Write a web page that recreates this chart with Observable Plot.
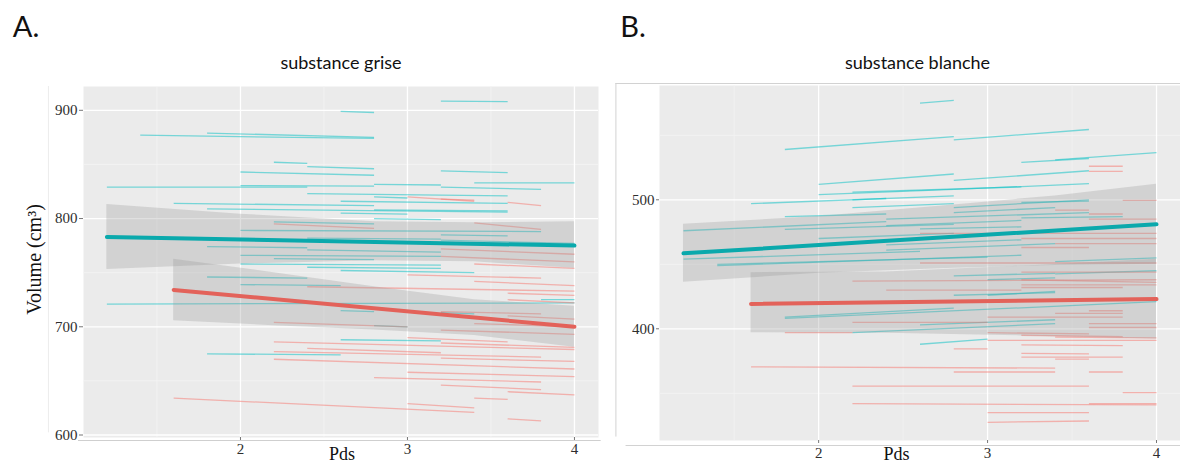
<!DOCTYPE html>
<html><head><meta charset="utf-8">
<script src="https://cdn.jsdelivr.net/npm/d3@7"></script>
<script src="https://cdn.jsdelivr.net/npm/@observablehq/plot@0.6"></script>
<style>
html,body{margin:0;padding:0;background:#fff;}
#wrap{position:relative;width:1180px;height:466px;overflow:hidden;background:#fff;}
#wrap svg{position:absolute;top:0;}
</style></head><body><div id="wrap"></div>
<script>
// ---------- shared ticks ----------
const xMajor = [2, 3, 4];
const xMinor = [1.5, 2.5, 3.5];

// ---------- Panel A : substance grise ----------
const greyYMajor = [600, 700, 800, 900];
const greyYMinor = [650, 750, 850];
// segments [pds start, volume start, pds end, volume end]
const greyTeal = [
  [3.2,908.5,3.6,908],[2.6,899,2.8,898],[1.4,877,2.8,874],[1.8,879,2.8,875],
  [2.2,852,2.4,851],[2.4,848,2.8,846],[2.0,843,2.8,840],[3.2,844,3.6,842.5],
  [1.2,829,2.4,829],[2.0,830.5,2.8,830],[2.8,831.5,3.2,831],[3.4,833,4.0,833],
  [3.2,829,3.8,827],[2.4,823,3.6,821],[2.8,820,3.0,819],[1.6,814,2.8,812],
  [2.6,816,3.6,814],[1.8,809,3.6,806],[2.8,808,3.6,807],[2.6,805,3.0,804],
  [2.8,800,3.2,799],[2.2,797,2.8,795],[2.0,789,3.8,788],[3.2,785,3.6,784],
  [2.4,782,3.2,781],[3.2,780,4.0,777],[3.6,777,3.8,776],
  [1.8,774,2.4,773],[2.4,771,3.2,769],[2.0,766,3.2,765],[2.2,763,2.8,762],
  [2.0,758,3.2,757],[2.4,755,3.2,754],[2.6,752,3.4,750],[1.8,746,2.4,745],
  [2.0,739,2.6,738],[1.2,721,4.0,722],[3.8,725,4.0,725],[2.6,715,2.8,714],
  [3.2,713,3.4,712],[2.8,701,3.0,700],[2.6,688,3.2,687],[1.8,675,2.6,674]
];
const greySalmon = [
  [3.0,820,3.4,816],[3.2,818,3.4,817],[3.6,815,3.8,812],[3.4,796,3.8,790],
  [2.2,795,2.8,791],[3.2,772,4.0,767],[3.2,765,4.0,760],[3.4,758,4.0,754],
  [3.0,748,3.8,745],[3.4,742,4.0,738],[2.4,737,4.0,733],[3.6,731,4.0,729],
  [3.6,725,4.0,722],[3.2,714,3.8,712],[3.6,710,4.0,707],[2.2,704,3.0,700],
  [3.4,703,4.0,700],[3.2,697,4.0,693],[3.0,690,3.6,686],[3.2,685,4.0,681],
  [2.2,686,4.0,679],[2.4,680,3.2,676],[2.2,677,3.8,672],[3.2,671,4.0,668],
  [2.2,670,4.0,661],[3.0,658,4.0,654],[2.8,653,3.8,649],[3.2,646,3.8,642],
  [3.6,640,4.0,637],[3.4,634,3.6,633],[3.0,629,3.4,625],[1.6,634,3.4,621],
  [3.6,615,3.8,613]
];
// regression lines [pds, volume] and confidence bands [pds, lower, upper]
const greyFitTeal = [[1.2,783],[4.0,775]];
const greyFitSalmon = [[1.6,734],[4.0,700]];
const greyBandTeal = [[1.2,753,813],[2.0,758,804],[2.8,761,797],[3.4,760,796],[4.0,754,797]];
const greyBandSalmon = [[1.6,705.5,762.5],[2.2,701,750],[2.8,697,737],[3.4,692,725],[4.0,681,719]];

// ---------- Panel B : substance blanche ----------
const whiteYMajor = [400, 500];
const whiteYMinor = [350, 450, 550];
const whiteTeal = [
  [2.6,575,2.8,577],[1.8,539,2.8,549],[2.8,546.5,3.6,554.5],[3.4,531,4.0,536.5],
  [3.2,529,3.6,532],[2.8,515,3.6,522.5],[2.0,512,2.8,520],[2.8,508,3.6,512.5],
  [2.0,504,2.8,508],[2.2,506,3.2,510],[1.6,497,2.8,503],[2.2,494,2.8,497],
  [2.8,494,3.6,500],[2.8,490,3.4,494],[1.8,487,2.4,489],[2.4,485,3.6,490],
  [1.2,476,2.4,483],[2.4,480,3.2,484],[1.8,477,2.8,481],[3.2,486,3.8,487],
  [2.6,477.5,3.2,479],[2.4,465,3.2,469],[2.4,461,3.4,466],[1.2,454,2.6,460],
  [1.4,449,3.2,457],[1.4,450,3.0,455.5],[2.8,441,3.4,443],[3.4,442.5,4.0,445],
  [3.0,438,3.4,439.5],[2.8,426,3.4,428],[3.0,426,3.4,429],[1.8,408,4.0,421],
  [1.8,409,2.8,416],[2.6,403,3.4,407],[2.2,397,3.4,404],[2.6,388,3.0,392],
  [3.4,452,4.0,455],[2.0,470,2.8,474],[3.2,498,3.6,499],[2.2,500,2.4,501]
];
const whiteSalmon = [
  [3.6,526,3.8,526],[3.6,522,3.8,522],[3.8,499.5,4.0,499.5],[3.4,492,3.6,492],
  [3.6,489,3.8,489],[3.6,485,4.0,485],[2.6,474,4.0,474],[3.2,470,4.0,470],
  [3.4,466,4.0,466],[3.2,463,3.6,463],[2.6,451,4.0,451],[3.2,444,4.0,444],
  [2.2,437,4.0,438],[3.2,438,4.0,436],[3.2,434,4.0,434],[3.2,432,3.8,432],
  [2.4,430,3.2,430],[3.6,414,3.8,414],[3.4,412,3.8,412],[3.0,409,3.8,409],
  [2.2,405,3.0,405],[3.6,404,4.0,404],[3.6,401,4.0,401],[1.8,397,2.2,397],
  [3.0,397,3.6,396],[3.2,395,3.8,394],[3.4,393.5,4.0,393],[3.0,391,4.0,391],
  [3.2,387.5,3.8,387],[2.8,384.5,3.0,384.5],[3.2,381,3.6,380.5],[3.2,378,3.8,378],
  [3.4,376.5,3.6,376.5],[1.6,370.5,3.4,369.5],[2.8,366.5,3.4,366.5],[3.6,366.5,3.8,366.5],
  [2.2,355.5,3.6,355.5],[3.8,350.5,4.0,350.5],[2.2,342,4.0,341],[3.6,342,4.0,342],
  [3.0,335,3.6,335],[3.0,327.5,3.6,328.5]
];
const whiteFitTeal = [[1.2,458.5],[4.0,481]];
const whiteFitSalmon = [[1.6,419.3],[4.0,423]];
const whiteBandTeal = [[1.2,436,481],[2.0,443,487],[2.8,447,496],[3.4,449,503],[4.0,450,512]];
const whiteBandSalmon = [[1.6,397,443.5],[2.4,396.5,444],[3.2,394.5,448.5],[4.0,392,454]];

// ---------- helpers ----------
const seg = a => a.map(([x1,y1,x2,y2]) => ({x1,y1,x2,y2}));
const band = a => a.map(([x,lo,hi]) => ({x,lo,hi}));
const fit = a => a.map(([x,y]) => ({x,y}));
const serif = "Liberation Serif, Times New Roman, serif";
const sans = "Lato, Open Sans, Noto Sans, sans-serif";
const id = d => d;

function panel(c) {
  return Plot.plot({
    width: c.width, height: 466,
    marginLeft: c.ml, marginRight: c.mr, marginTop: c.mt, marginBottom: 466 - c.bottom,
    x: {domain: c.xd, label: null},
    y: {domain: c.yd, label: null},
    style: {fontFamily: serif, fontSize: "15px", color: "#2e2e2e", background: "transparent", overflow: "visible"},
    marks: [
      ...c.extra,
      Plot.frame({fill: "#ebebeb", stroke: null}),
      Plot.ruleX(xMinor, {stroke: "#f4f4f4", strokeWidth: 0.8}),
      Plot.ruleY(c.yMinor, {stroke: "#f4f4f4", strokeWidth: 0.8}),
      Plot.ruleX(xMajor, {stroke: "#ffffff", strokeWidth: 1.3}),
      Plot.ruleY(c.yMajor, {stroke: "#ffffff", strokeWidth: 1.3}),
      Plot.link(seg(c.teal), {x1: "x1", y1: "y1", x2: "x2", y2: "y2", stroke: "#00BFC4", strokeOpacity: 0.5, strokeWidth: 1.3}),
      Plot.link(seg(c.salmon), {x1: "x1", y1: "y1", x2: "x2", y2: "y2", stroke: "#F8766D", strokeOpacity: 0.5, strokeWidth: 1.3}),
      Plot.areaY(band(c.bandTeal), {x: "x", y1: "lo", y2: "hi", fill: "#999999", fillOpacity: 0.3}),
      Plot.areaY(band(c.bandSalmon), {x: "x", y1: "lo", y2: "hi", fill: "#999999", fillOpacity: 0.3}),
      Plot.line(fit(c.fitTeal), {x: "x", y: "y", stroke: "#0aa9ac", strokeWidth: 4}),
      Plot.line(fit(c.fitSalmon), {x: "x", y: "y", stroke: "#e3625a", strokeWidth: 4}),
      Plot.axisY(c.yMajor, {tickSize: c.ytick, tickPadding: 2, fontSize: 15, fontFamily: serif, fill: "#2e2e2e", stroke: "#777"}),
      Plot.axisX(xMajor, {tickSize: 3, tickPadding: c.xpad, fontSize: 15, fontFamily: serif, fill: "#2e2e2e", stroke: "#777", tickFormat: d => String(d)}),
      ...c.texts
    ]
  });
}

const wrap = document.getElementById("wrap");

const svgA = panel({
  width: 600, ml: 83, mr: 2, mt: 86, bottom: 437,
  xd: [1.06, 4.144], yd: [597.7, 922],
  yMajor: greyYMajor, yMinor: greyYMinor,
  teal: greyTeal, salmon: greySalmon,
  bandTeal: greyBandTeal, bandSalmon: greyBandSalmon,
  fitTeal: greyFitTeal, fitSalmon: greyFitSalmon,
  ytick: 4, xpad: 3,
  extra: [
    Plot.ruleY([597.7], {x1: 1.03, x2: 4.16, dy: 3, stroke: "#cfcfcf", strokeWidth: 1}),
    Plot.ruleX([0.85], {y1: 602, y2: 922, stroke: "#ececec", strokeWidth: 1})
  ],
  texts: [
    Plot.text(["A."], {text: id, frameAnchor: "top-left", dx: -57.5, dy: -58.5, textAnchor: "middle", lineAnchor: "middle", fontFamily: sans, fontSize: 29, fill: "#111"}),
    Plot.text(["substance grise"], {text: id, frameAnchor: "top", dy: -23, textAnchor: "middle", lineAnchor: "middle", fontFamily: sans, fontSize: 18, fill: "#111"}),
    Plot.text(["Volume (cm³)"], {text: id, frameAnchor: "left", dx: -49, dy: -2.5, rotate: -90, textAnchor: "middle", lineAnchor: "middle", fontFamily: serif, fontSize: 20, fill: "#111"}),
    Plot.text(["Pds"], {text: id, frameAnchor: "bottom", dx: 1, dy: 17, textAnchor: "middle", lineAnchor: "middle", fontFamily: serif, fontSize: 18, fill: "#111"})
  ]
});
svgA.style.left = "0px";
wrap.appendChild(svgA);

const svgB = panel({
  width: 580, ml: 59, mr: 0, mt: 85, bottom: 440,
  xd: [1.058, 4.142], yd: [313.4, 588.6],
  yMajor: whiteYMajor, yMinor: whiteYMinor,
  teal: whiteTeal, salmon: whiteSalmon,
  bandTeal: whiteBandTeal, bandSalmon: whiteBandSalmon,
  fitTeal: whiteFitTeal, fitSalmon: whiteFitSalmon,
  ytick: 3, xpad: 4,
  extra: [
    Plot.ruleY([588.6], {x1: 0.8, x2: 4.2, dy: -2, stroke: "#d2d2d2", strokeWidth: 1}),
    Plot.ruleX([0.8], {y1: 314.5, y2: 588.6, dy: -2, stroke: "#d2d2d2", strokeWidth: 1}),
    Plot.ruleY([313.4], {x1: 0.86, x2: 4.2, dy: 5, stroke: "#d2d2d2", strokeWidth: 1})
  ],
  texts: [
    Plot.text(["B."], {text: id, frameAnchor: "top-left", dx: -26.5, dy: -57.5, textAnchor: "middle", lineAnchor: "middle", fontFamily: sans, fontSize: 29, fill: "#111"}),
    Plot.text(["substance blanche"], {text: id, frameAnchor: "top", dx: -2.5, dy: -22, textAnchor: "middle", lineAnchor: "middle", fontFamily: sans, fontSize: 18, fill: "#111"}),
    Plot.text(["Pds"], {text: id, frameAnchor: "bottom", dx: -23.5, dy: 14, textAnchor: "middle", lineAnchor: "middle", fontFamily: serif, fontSize: 18, fill: "#111"})
  ]
});
svgB.style.left = "600px";
wrap.appendChild(svgB);
</script>
</body></html>
